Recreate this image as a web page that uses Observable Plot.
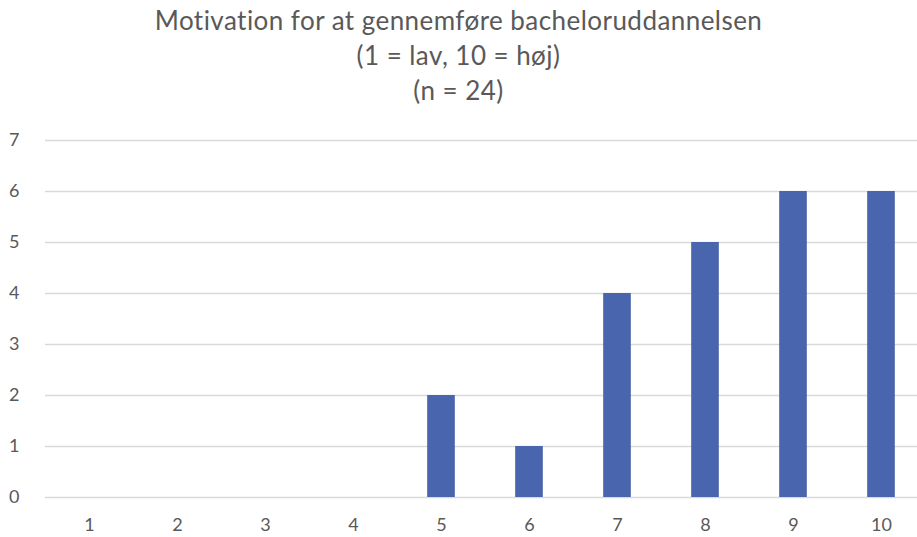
<!DOCTYPE html>
<html>
<head>
<meta charset="utf-8">
<script src="https://cdn.jsdelivr.net/npm/d3@7"></script>
<script src="https://cdn.jsdelivr.net/npm/@observablehq/plot@0.6"></script>
<style>
  html, body { margin: 0; padding: 0; background: #fff; }
  #title { height: 115px; width: 917px; text-align: center; font-family: Lato, "Open Sans", sans-serif; color: #595959; font-size: 26px; line-height: 35px; letter-spacing: 0.45px; padding-top: 3px; box-sizing: border-box; }
  #chart svg { display: block; }
</style>
</head>
<body>
<div id="title">Motivation for at gennemføre bacheloruddannelsen<br>(1 = lav, 10 = høj)<br>(n = 24)</div>
<div id="chart"></div>
<script>
const categories = [1, 2, 3, 4, 5, 6, 7, 8, 9, 10];
const counts = [0, 0, 0, 0, 2, 1, 4, 5, 6, 6];
const yTicks = [0, 1, 2, 3, 4, 5, 6, 7];

const data = categories.map((c, i) => ({category: c, count: counts[i]}));

const chart = Plot.plot({
  width: 917,
  height: 422,
  marginLeft: 45,
  marginRight: 0,
  marginTop: 20,
  marginBottom: 40,
  style: {fontFamily: "Lato, 'Open Sans', sans-serif", fontSize: "18px", color: "#595959", background: "#fff"},
  x: {type: "band", domain: categories, range: [45, 925], paddingInner: 0.686, paddingOuter: 0.343, round: false, label: null},
  y: {domain: [0, 7], range: [382, 25], label: null},
  marks: [
    Plot.ruleY(yTicks, {stroke: "#d9d9d9", strokeWidth: 1.5}),
    Plot.barY(data, {x: "category", y: "count", fill: "#4865ad"}),
    Plot.axisY({ticks: yTicks, tickFormat: "d", tickSize: 0, tickPadding: 26, fontSize: 18, fill: "#595959", label: null}),
    Plot.axisX({tickSize: 0, tickPadding: 21, fontSize: 18, fill: "#595959", label: null})
  ]
});
document.getElementById("chart").appendChild(chart);
</script>
</body>
</html>
